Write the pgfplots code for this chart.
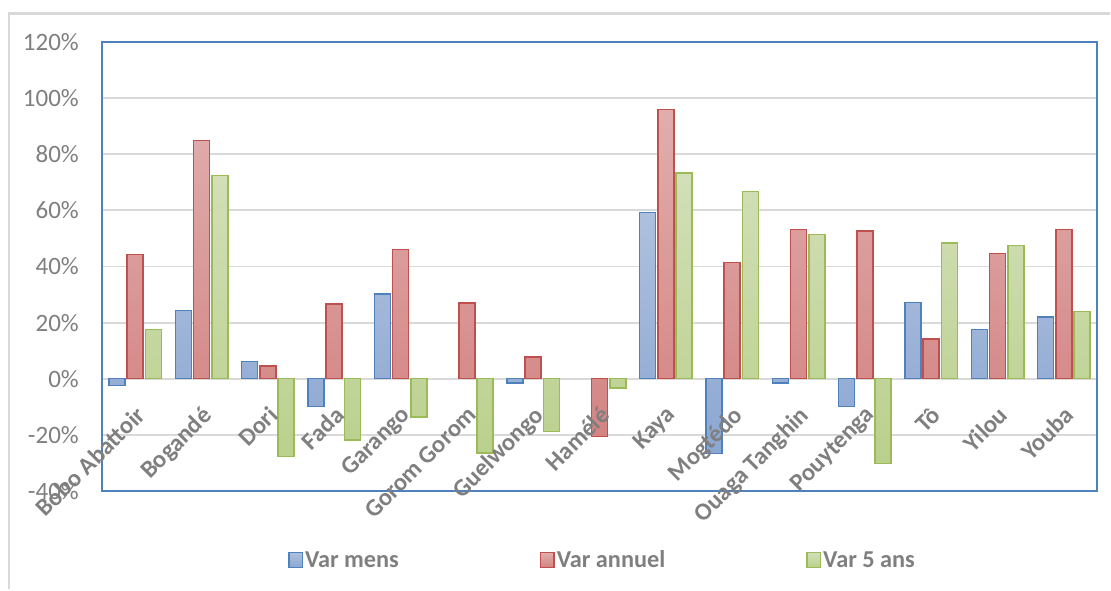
\documentclass[border=0pt]{standalone}
\usepackage{pgfplots}
\pgfplotsset{compat=1.18}
\usepackage{fontspec}
\setmainfont{Carlito}
\definecolor{labelgray}{HTML}{7F7F7F}
\definecolor{gridgray}{HTML}{D9D9D9}
\definecolor{frameblue}{HTML}{4F81BD}
\definecolor{bedge}{HTML}{4F81BD}
\definecolor{btop}{HTML}{AEC0DE}
\definecolor{bbot}{HTML}{8CA7D2}
\definecolor{redge}{HTML}{C0504D}
\definecolor{rtop}{HTML}{E0AEAD}
\definecolor{rbot}{HTML}{D38483}
\definecolor{gedge}{HTML}{9BBB59}
\definecolor{gtop}{HTML}{D3DFB8}
\definecolor{gbot}{HTML}{BAD08C}
\pgfplotsset{
  layers/labelsontop/.define layer set={
    axis background,axis grid,pre main,main,axis ticks,axis lines,axis tick labels,axis descriptions,axis foreground
  }{/pgfplots/layers/standard},
}
\begin{document}
\begin{tikzpicture}
\path (0,0) rectangle (1111pt,590pt);
\draw[gridgray, line width=2.5pt] (9pt,1.3pt) -- (9pt,576.5pt) -- (1109.7pt,576.5pt);
\begin{axis}[
  set layers=labelsontop,
  at={(102pt,99pt)}, anchor=south west,
  scale only axis, width=995pt, height=449pt,
  xmin=-0.5, xmax=14.5, ymin=-40, ymax=120,
  ybar=2.3pt, bar width=16pt,
  xtick={0,1,2,3,4,5,6,7,8,9,10,11,12,13,14},
  xticklabels={Bobo Abattoir,Bogandé,Dori,Fada,Garango,Gorom Gorom,Guelwongo,Hamélé,Kaya,Mogtédo,Ouaga Tanghin,Pouytenga,Tô,Yilou,Youba},
  ytick={-40,-20,0,20,40,60,80,100,120},
  yticklabels={-40\%,-20\%,0\%,20\%,40\%,60\%,80\%,100\%,120\%},
  major tick length=0pt,
  ymajorgrids, major grid style={draw=gridgray, line width=1.8pt},
  axis line style={draw=frameblue, line width=2.6pt},
  yticklabel style={font=\fontsize{25}{29}\selectfont, text=labelgray, anchor=east, inner sep=0pt, xshift=-23pt},
  xticklabel style={font=\fontsize{24.5}{28}\selectfont\bfseries, text=labelgray, rotate=45, anchor=north east, inner sep=0pt, xshift=-1pt},
  xticklabel shift=-87pt,
  legend columns=3,
  legend style={draw=none, fill=none, at={(0.1869,-0.1537)}, anchor=west, inner sep=0pt,
    font=\fontsize{24.3}{28}\selectfont\bfseries, text=labelgray,
    /tikz/every even column/.append style={column sep=139pt}},
  legend image code/.code={\draw[#1, line width=1.4pt] (0pt,-7.5pt) rectangle (13.5pt,7.5pt);},
]
\addplot[draw=bedge, line width=1.4pt, top color=btop, bottom color=bbot] coordinates {
(0,-2.3) (1,24.3) (2,6.2) (3,-9.9) (4,30.2) (6,-1.5) (8,59.3) (9,-26.6) (10,-1.5) (11,-9.9) (12,27.2) (13,17.6) (14,22.0)};
\addplot[draw=redge, line width=1.4pt, top color=rtop, bottom color=rbot] coordinates {
(0,44.2) (1,85.0) (2,4.6) (3,26.6) (4,46.0) (5,27.0) (6,7.8) (7,-20.5) (8,96.0) (9,41.5) (10,53.2) (11,52.6) (12,14.1) (13,44.7) (14,53.2)};
\addplot[draw=gedge, line width=1.4pt, top color=gtop, bottom color=gbot] coordinates {
(0,17.6) (1,72.5) (2,-27.7) (3,-21.8) (4,-13.7) (5,-26.5) (6,-18.8) (7,-3.3) (8,73.3) (9,66.7) (10,51.5) (11,-30.1) (12,48.4) (13,47.4) (14,24.0)};
\legend{Var mens,Var annuel,Var 5 ans}
\end{axis}
\end{tikzpicture}
\end{document}
